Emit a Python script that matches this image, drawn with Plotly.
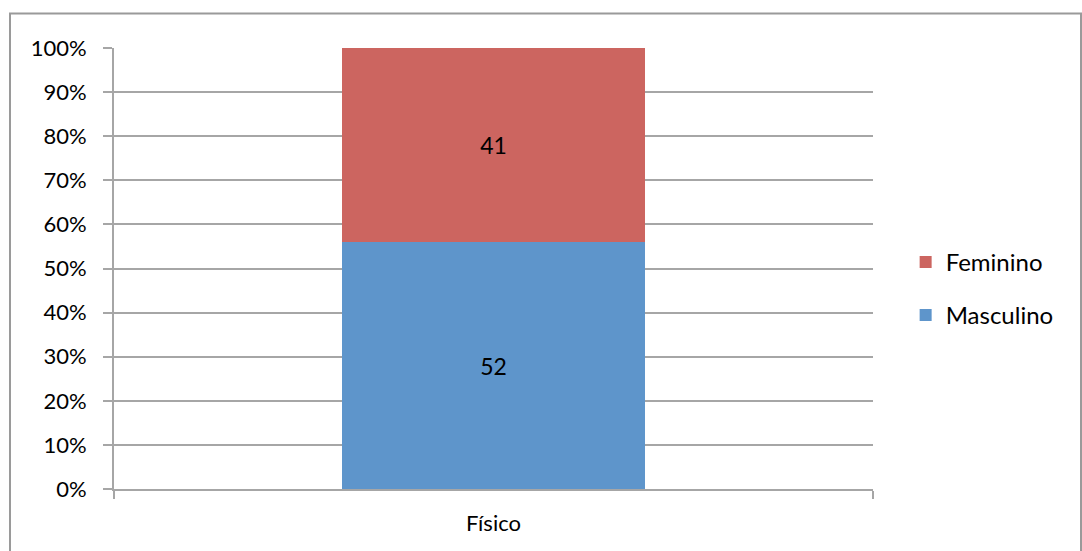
import plotly.graph_objects as go

categories = ["Físico"]
masculino = [52]
feminino = [41]
y_ticks = [0, 10, 20, 30, 40, 50, 60, 70, 80, 90, 100]
y_tick_labels = [f"{v}%" for v in y_ticks]

FONT = "Lato, 'Open Sans', sans-serif"
GRID = "#a6a6a6"

fig = go.Figure()
fig.add_trace(go.Bar(
    name="Masculino", x=categories, y=masculino, marker_color="#5e95cb",
    marker_line_width=0, width=0.4,
    text=[str(v) for v in masculino], textposition="inside", insidetextanchor="middle",
    textfont=dict(size=23, color="#000000", family=FONT), legendgroup="m", legendrank=2,
))
fig.add_trace(go.Bar(
    name="Feminino", x=categories, y=feminino, marker_color="#cc6560",
    marker_line_width=0, width=0.4,
    text=[str(v) for v in feminino], textposition="inside", insidetextanchor="middle",
    textfont=dict(size=23, color="#000000", family=FONT), legendgroup="f", legendrank=1,
))

fig.update_layout(
    width=1082, height=551,
    margin=dict(l=114, r=209, t=48, b=62),
    barmode="stack", barnorm="percent",
    paper_bgcolor="white", plot_bgcolor="white",
    font=dict(family=FONT, size=22, color="#000000"),
    showlegend=True,
    legend=dict(x=1.043, y=0.454, xanchor="left", yanchor="middle",
                traceorder="grouped", tracegroupgap=19,
                font=dict(size=24, family=FONT), itemwidth=30),
    xaxis=dict(range=[-0.5, 0.5], showline=True, linecolor=GRID, linewidth=2,
               ticks="outside", tickson="boundaries", ticklen=8, tickcolor=GRID, tickwidth=2,
               showgrid=False, tickfont=dict(size=22), ticklabelstandoff=14),
    yaxis=dict(range=[0, 100], tickvals=y_ticks, ticktext=y_tick_labels,
               showline=True, linecolor=GRID, linewidth=2,
               ticks="outside", ticklen=9, tickcolor=GRID, tickwidth=2,
               showgrid=True, gridcolor=GRID, gridwidth=2, zeroline=False,
               ticklabelstandoff=12, tickfont=dict(size=22)),
    shapes=[dict(type="rect", xref="paper", yref="paper",
                 x0=(10 - 114) / 759, x1=(1081 - 114) / 759,
                 y0=-0.2, y1=1 + (48 - 13.5) / 441,
                 line=dict(color="#9a9a9a", width=2), layer="below")],
)

fig.write_html("out.html")
